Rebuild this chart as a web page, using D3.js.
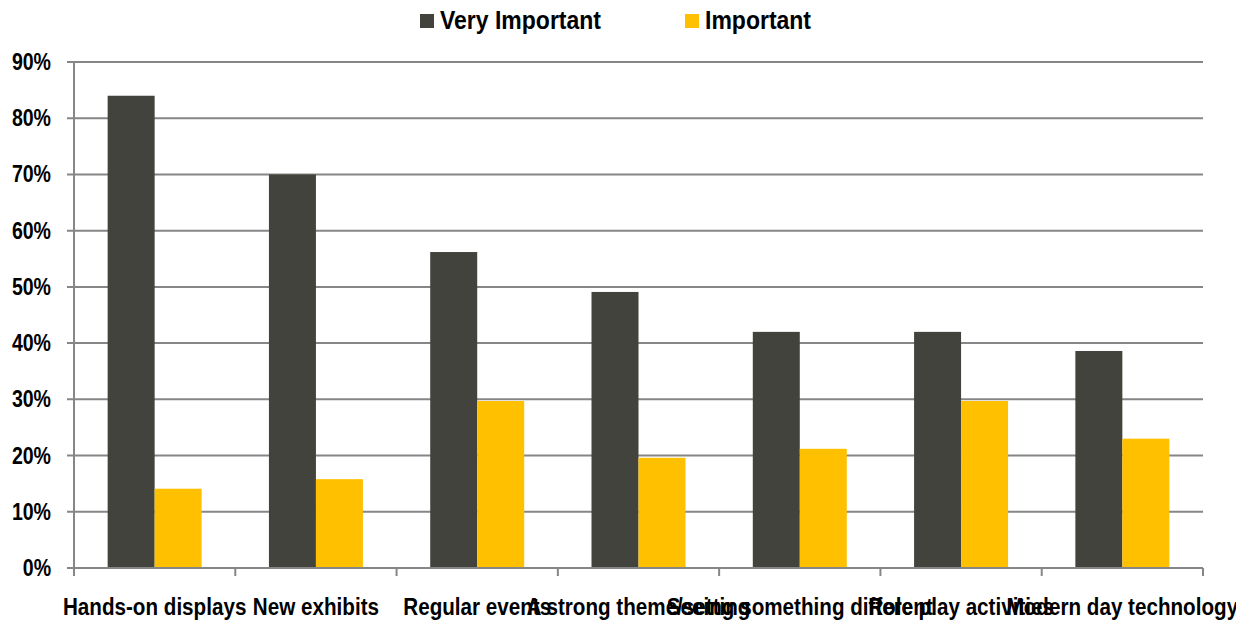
<!DOCTYPE html>
<html>
<head>
<meta charset="utf-8" />
<script src="https://d3js.org/d3.v7.min.js"></script>
<style>
  body { margin: 0; background: #fff; }
  svg { display: block; }
  text { font-family: "Liberation Sans", Arial, sans-serif; font-weight: bold; fill: #000; }
</style>
</head>
<body>
<div id="chart"></div>
<script>
// Données
const categories = ["Hands-on displays", "New exhibits", "Regular events", "A strong theme/setting",
  "Seeing something different", "Role play activities", "Modern day technology"];
const series = ["Very Important", "Important"];
const veryImportant = [84, 70, 56.2, 49.1, 42, 42, 38.6];
const important = [14.1, 15.8, 29.7, 19.6, 21.2, 29.7, 23];
const yTicks = [0, 10, 20, 30, 40, 50, 60, 70, 80, 90];
const couleurs = ["#43433D", "#FFC000"];

const width = 1236, height = 622;
const plotLeft = 74, plotRight = 1203, plotTop = 62, plotBottom = 568;

const svg = d3.select("#chart").append("svg")
  .attr("width", width)
  .attr("height", height);

const x0 = d3.scaleBand().domain(categories).range([plotLeft, plotRight]).padding(0);
const x1 = d3.scaleBand().domain(series).range([0, x0.bandwidth()]).paddingInner(0).paddingOuter(0.716);
const y = d3.scaleLinear().domain([0, 90]).range([plotBottom, plotTop]);
const couleur = d3.scaleOrdinal(couleurs).domain(series);

const gridColor = "#868686";

// lignes de grille horizontales (avec petit tick à gauche)
svg.append("g")
  .selectAll("line")
  .data(yTicks.filter(d => d > 0))
  .enter().append("line")
  .attr("x1", plotLeft - 7)
  .attr("x2", plotRight)
  .attr("y1", d => y(d))
  .attr("y2", d => y(d))
  .attr("stroke", gridColor)
  .attr("stroke-width", 2);

// barres
const data = categories.map((c, i) => ({
  cat: c,
  values: [{ s: series[0], v: veryImportant[i] }, { s: series[1], v: important[i] }]
}));

svg.append("g")
  .selectAll("g")
  .data(data)
  .enter().append("g")
  .attr("transform", d => `translate(${x0(d.cat)},0)`)
  .selectAll("rect")
  .data(d => d.values)
  .enter().append("rect")
  .attr("x", d => x1(d.s))
  .attr("width", x1.bandwidth())
  .attr("y", d => y(d.v))
  .attr("height", d => y(0) - y(d.v))
  .attr("fill", d => couleur(d.s));

// axe vertical
svg.append("line")
  .attr("x1", plotLeft).attr("x2", plotLeft)
  .attr("y1", plotTop).attr("y2", plotBottom)
  .attr("stroke", gridColor).attr("stroke-width", 2);

// axe horizontal
svg.append("line")
  .attr("x1", plotLeft - 7).attr("x2", plotRight)
  .attr("y1", plotBottom).attr("y2", plotBottom)
  .attr("stroke", gridColor).attr("stroke-width", 2);

// ticks en bas aux limites des catégories
const bounds = categories.map(c => x0(c)).concat([plotRight]);
svg.append("g")
  .selectAll("line")
  .data(bounds)
  .enter().append("line")
  .attr("x1", d => d).attr("x2", d => d)
  .attr("y1", plotBottom).attr("y2", plotBottom + 8)
  .attr("stroke", gridColor).attr("stroke-width", 2);

// étiquettes de l'axe y (police étroite simulée par un scale horizontal)
svg.append("g")
  .selectAll("text")
  .data(yTicks)
  .enter().append("text")
  .attr("transform", d => `translate(51,${y(d) + 8}) scale(0.85,1)`)
  .attr("text-anchor", "end")
  .style("font-size", "23px")
  .text(d => d + "%");

// étiquettes de catégories
svg.append("g")
  .selectAll("text")
  .data(categories)
  .enter().append("text")
  .attr("transform", d => `translate(${x0(d) + x0.bandwidth() / 2},615) scale(0.86,1)`)
  .attr("text-anchor", "middle")
  .style("font-size", "24px")
  .text(d => d);

// légende
const legendX = [420, 685];
const legend = svg.append("g")
  .selectAll("g")
  .data(series)
  .enter().append("g")
  .attr("transform", (d, i) => `translate(${legendX[i]},0)`);

legend.append("rect")
  .attr("x", 0).attr("y", 14)
  .attr("width", 14).attr("height", 14)
  .attr("fill", d => couleur(d));

legend.append("text")
  .attr("transform", "translate(20,29) scale(0.92,1)")
  .style("font-size", "25px")
  .text(d => d);
</script>
</body>
</html>
